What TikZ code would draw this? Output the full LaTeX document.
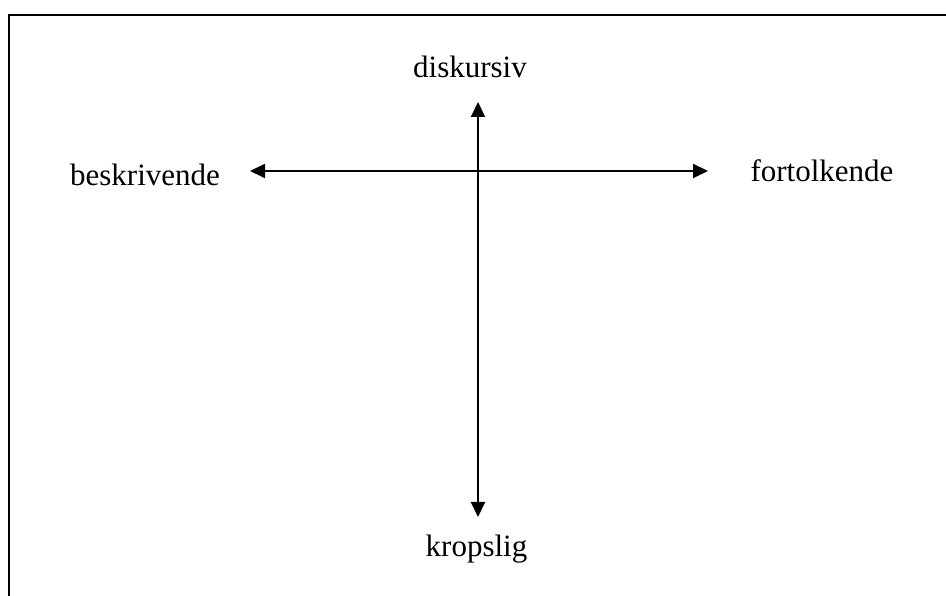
\documentclass[tikz,border=0pt]{standalone}
\usepackage{fontspec}
\setmainfont{Liberation Serif}
\usetikzlibrary{arrows.meta}

\begin{document}
\begin{tikzpicture}[x=1pt,y=1pt,
  axis/.style={{Triangle[length=15pt,width=14pt]}-{Triangle[length=15pt,width=14pt]},line width=2pt},
  label/.style={anchor=base,inner sep=0pt,font=\fontsize{31}{37}\selectfont}
]
\clip (0,0) rectangle (946,596);
\draw[line width=2pt] (9,581) rectangle (980,-30);
\node[label] (disk) at (470,518) {diskursiv};
\node[label] (krop) at (476.5,39) {kropslig};
\node[label] (besk) at (145,410) {beskrivende};
\node[label] (fort) at (822,414) {fortolkende};
\coordinate (top) at (478,494);
\coordinate (bottom) at (478,79);
\coordinate (left) at (250,425);
\coordinate (right) at (708,425);
\draw[axis] (left) -- (right);
\draw[axis] (top) -- (bottom);
\end{tikzpicture}
\end{document}
